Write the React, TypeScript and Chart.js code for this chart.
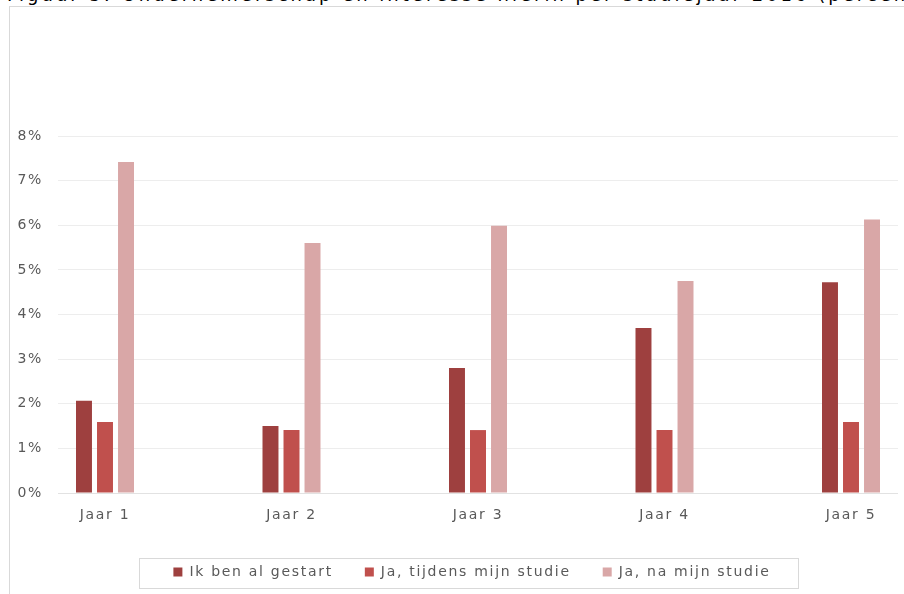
import React, { useEffect, useRef } from 'react';
import { Chart, registerables } from 'chart.js';

Chart.register(...registerables);

const categories = ['Jaar 1', 'Jaar 2', 'Jaar 3', 'Jaar 4', 'Jaar 5'];
const seriesNames = ['Ik ben al gestart', 'Ja, tijdens mijn studie', 'Ja, na mijn studie'];
const alGestart = [2.07, 1.5, 2.8, 3.7, 4.72];
const tijdensStudie = [1.59, 1.41, 1.41, 1.41, 1.59];
const naStudie = [7.42, 5.6, 5.99, 4.75, 6.13];
const yTickValues = [0, 1, 2, 3, 4, 5, 6, 7, 8];
const seriesColors = ['#9E403F', '#C0504D', '#D9A7A7'];
const titleText = 'Figuur 5: Ondernemerschap en interesse hierin per studiejaar 2016 (percentages)';

const FONT = { family: '"DejaVu Sans", Verdana, sans-serif', size: 14 };
const LABEL_COLOR = '#595959';

const spacingPlugin = {
  id: 'letterSpacing',
  beforeUpdate(chart: any) {
    chart.ctx.letterSpacing = '1.7px';
  },
  afterLayout(chart: any) {
    // centre the legend row under the plot like the original
    const lg = chart.legend;
    if (lg) {
      lg.left += 23;
      lg.right += 23;
    }
  },
  beforeDraw(chart: any) {
    chart.ctx.letterSpacing = '1.7px';
  },
};

const legendBoxPlugin = {
  id: 'legendBox',
  afterDraw(chart: any) {
    const lg = chart.legend;
    const hb = lg && lg.legendHitBoxes;
    if (!hb || !hb.length) return;
    const first = hb[0];
    const last = hb[hb.length - 1];
    const left = Math.round(first.left - 34);
    const right = Math.round(last.left + last.width + 27);
    const top = Math.round(first.top - 7);
    const bottom = Math.round(first.top + first.height + 9);
    const ctx = chart.ctx;
    ctx.save();
    ctx.strokeStyle = '#D9D9D9';
    ctx.lineWidth = 1;
    ctx.strokeRect(left + 0.5, top + 0.5, right - left, bottom - top);
    ctx.restore();
  },
};

export default function App() {
  const canvasRef = useRef<HTMLCanvasElement | null>(null);

  useEffect(() => {
    document.body.style.margin = '0';
    const canvas = canvasRef.current;
    if (!canvas) return;
    const values = [alGestart, tijdensStudie, naStudie];
    const chart = new Chart(canvas, {
      type: 'bar',
      data: {
        datasets: seriesNames.map((name, i) => ({
          label: name,
          data: values[i].map((v, j) => ({ x: j + 1, y: v })),
          backgroundColor: seriesColors[i],
          borderWidth: 0,
          categoryPercentage: 0.338,
          barPercentage: 0.76,
        })),
      } as any,
      options: {
        animation: false,
        responsive: false,
        layout: { padding: { top: 136, left: 0, right: 6, bottom: 5 } },
        plugins: {
          legend: {
            position: 'bottom',
            labels: {
              boxWidth: 9,
              boxHeight: 9,
              padding: 32,
              color: LABEL_COLOR,
              font: FONT,
            },
          },
          tooltip: { enabled: false },
          title: { display: false },
        },
        scales: {
          x: {
            type: 'linear',
            offset: false,
            min: 0.748,
            max: 5.252,
            grid: { display: false, drawTicks: false, offset: false },
            border: { display: false },
            ticks: {
              color: LABEL_COLOR,
              font: FONT,
              padding: 14,
              autoSkip: false,
              maxRotation: 0,
              callback: (v: any) => categories[Math.round(Number(v)) - 1] ?? '',
            },
            afterBuildTicks: (s: any) => {
              s.ticks = categories.map((_, i) => ({ value: i + 1 }));
            },
            afterFit: (s: any) => {
              s.height = 40;
            },
          },
          y: {
            min: yTickValues[0],
            max: yTickValues[yTickValues.length - 1],
            ticks: {
              stepSize: 1,
              padding: 15,
              color: LABEL_COLOR,
              font: FONT,
              callback: (v: any) => v + '%',
            },
            afterBuildTicks: (s: any) => {
              s.ticks = yTickValues.map((v) => ({ value: v }));
            },
            grid: {
              drawTicks: false,
              color: (c: any) => (c.tick && c.tick.value === 0 ? '#E2E2E2' : '#EDEDED'),
              lineWidth: 1,
            },
            border: { display: false },
            afterFit: (s: any) => {
              s.width = 58;
            },
          },
        },
      } as any,
      plugins: [spacingPlugin, legendBoxPlugin],
    });
    return () => chart.destroy();
  }, []);

  return (
    <div style={{ position: 'relative', width: 904, height: 594, overflow: 'hidden', background: '#fff' }}>
      <div
        style={{
          position: 'absolute',
          left: 7,
          top: -14,
          whiteSpace: 'nowrap',
          fontFamily: '"DejaVu Sans", Verdana, sans-serif',
          fontSize: 18,
          letterSpacing: '3px',
          lineHeight: '18px',
          color: '#000',
        }}
      >
        {titleText}
      </div>
      <div
        style={{
          position: 'absolute',
          left: 9,
          top: 6,
          width: 1000,
          height: 700,
          border: '1px solid #D9D9D9',
          background: '#fff',
        }}
      />
      <canvas ref={canvasRef} width={904} height={594} style={{ position: 'absolute', left: 0, top: 0 }} />
    </div>
  );
}
